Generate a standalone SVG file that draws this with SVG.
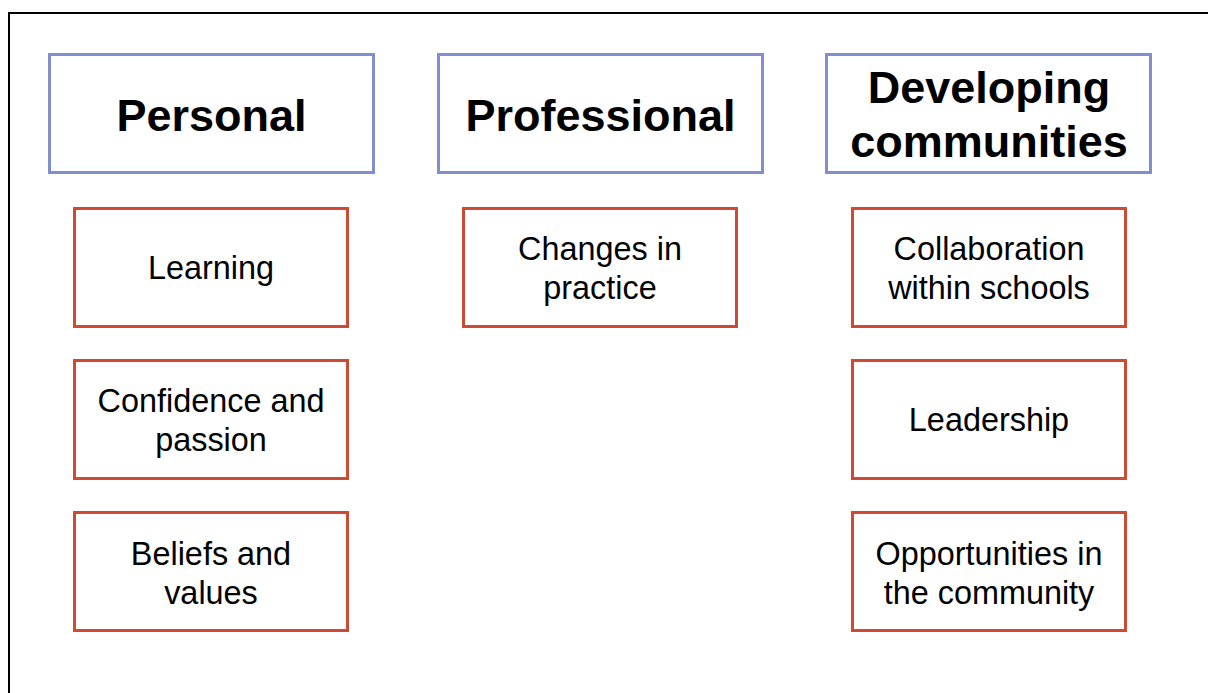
<svg xmlns="http://www.w3.org/2000/svg" width="1208" height="693" viewBox="0 0 1208 693">
  <style>
    .frame { fill: none; stroke: #000; stroke-width: 2; }
    .head rect { fill: #fff; stroke: #7f8fd0; stroke-width: 3; }
    .item rect { fill: #fff; stroke: #cd4a33; stroke-width: 3; }
    .head text { font-family: "Liberation Sans", Arial, sans-serif; font-weight: bold; font-size: 45px; fill: #000; text-anchor: middle; }
    .item text { font-family: "Liberation Sans", Arial, sans-serif; font-size: 32.4px; fill: #000; text-anchor: middle; }
  </style>
  <rect width="1208" height="693" fill="#fff"/>
  <path class="frame" d="M9,693 V13 H1208"/>

  <!-- column headers -->
  <g id="personal" class="head">
    <rect x="49.5" y="54.5" width="324" height="118"/>
    <text x="211.5" y="131">Personal</text>
  </g>
  <g id="professional" class="head">
    <rect x="438.5" y="54.5" width="324" height="118"/>
    <text x="600.5" y="131">Professional</text>
  </g>
  <g id="developing-communities" class="head">
    <rect x="826.5" y="54.5" width="324" height="118"/>
    <text x="989" y="103">Developing</text>
    <text x="989" y="157">communities</text>
  </g>

  <!-- Personal items -->
  <g id="learning" class="item">
    <rect x="74.5" y="208.5" width="273" height="118"/>
    <text x="211" y="279">Learning</text>
  </g>
  <g id="confidence" class="item">
    <rect x="74.5" y="360.5" width="273" height="118"/>
    <text x="211" y="412">Confidence and</text>
    <text x="211" y="451">passion</text>
  </g>
  <g id="beliefs" class="item">
    <rect x="74.5" y="512.5" width="273" height="118"/>
    <text x="211" y="565">Beliefs and</text>
    <text x="211" y="604">values</text>
  </g>

  <!-- Professional items -->
  <g id="changes" class="item">
    <rect x="463.5" y="208.5" width="273" height="118"/>
    <text x="600" y="260">Changes in</text>
    <text x="600" y="299">practice</text>
  </g>

  <!-- Developing communities items -->
  <g id="collaboration" class="item">
    <rect x="852.5" y="208.5" width="273" height="118"/>
    <text x="989" y="260">Collaboration</text>
    <text x="989" y="299">within schools</text>
  </g>
  <g id="leadership" class="item">
    <rect x="852.5" y="360.5" width="273" height="118"/>
    <text x="989" y="431">Leadership</text>
  </g>
  <g id="opportunities" class="item">
    <rect x="852.5" y="512.5" width="273" height="118"/>
    <text x="989" y="565">Opportunities in</text>
    <text x="989" y="604">the community</text>
  </g>

  <g id="connectors"/>
</svg>
